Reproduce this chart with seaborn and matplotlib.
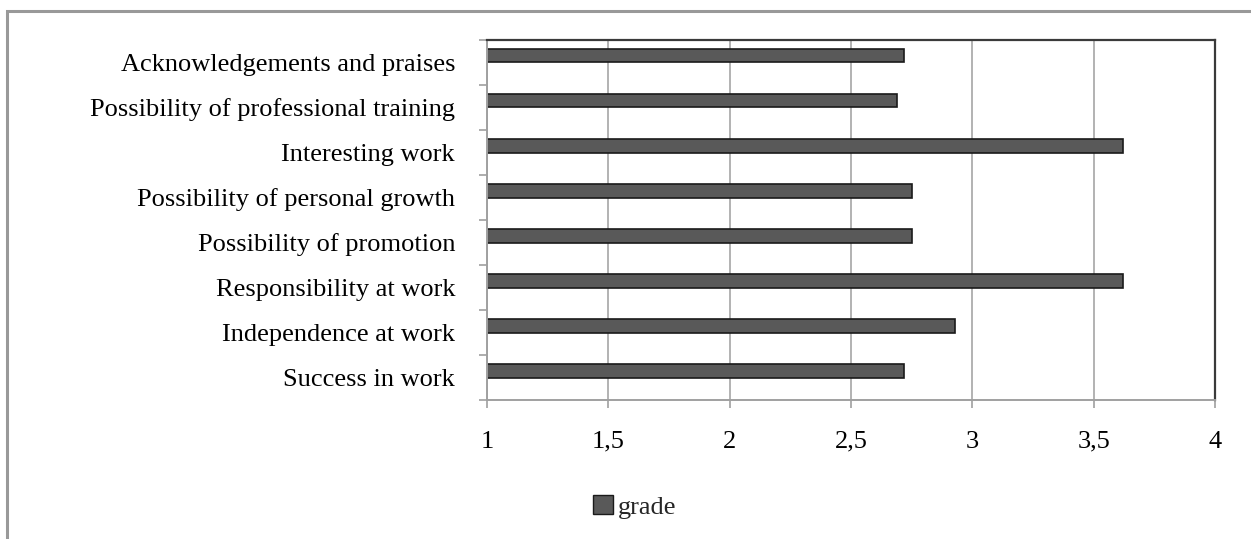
import numpy as np
import pandas as pd
import seaborn as sns
import matplotlib
matplotlib.use("Agg")
import matplotlib.pyplot as plt
from matplotlib.patches import Rectangle, Patch
from matplotlib.ticker import FixedLocator, FuncFormatter

# Motivation factors and their mean grades
factors = [
    "Acknowledgements and praises",
    "Possibility of professional training",
    "Interesting work",
    "Possibility of personal growth",
    "Possibility of promotion",
    "Responsibility at work",
    "Independence at work",
    "Success in work",
]
grades = [2.72, 2.69, 3.62, 2.75, 2.75, 3.62, 2.93, 2.72]
series_name = "grade"
x_ticks = [1, 1.5, 2, 2.5, 3, 3.5, 4]

sns.set_theme(style="white")
plt.rcParams["font.family"] = ["Liberation Serif", "DejaVu Serif"]

df = pd.DataFrame({"factor": factors, "value": grades, "series": series_name})

fig = plt.figure(figsize=(12.51, 5.39), dpi=100)
ax = fig.add_axes([487 / 1251, 1 - 400 / 539, 728 / 1251, 360 / 539])

# Two-slot grouping leaves the bar in the upper half of each category band
sns.barplot(
    data=df, y="factor", x="value", hue="series",
    hue_order=[series_name, "_empty"], order=factors,
    orient="h", dodge=True, width=0.58,
    palette={series_name: "#595959", "_empty": "#595959"},
    edgecolor="#1a1a1a", linewidth=1.2, ax=ax, legend=False,
)

ax.set_xlim(1, 4)
ax.set_ylim(len(factors) - 0.5, -0.5)
ax.set_xlabel("")
ax.set_ylabel("")

ax.xaxis.set_major_locator(FixedLocator(x_ticks))
ax.xaxis.set_major_formatter(FuncFormatter(lambda v, p: f"{v:g}".replace(".", ",")))
ax.grid(axis="x", color="#a6a6a6", linewidth=1.2)
ax.grid(axis="y", visible=False)
ax.set_axisbelow(True)

ax.tick_params(axis="x", which="major", bottom=True, length=6, width=1.2,
               color="#a0a0a0", direction="out", pad=16, labelsize=19,
               labelcolor="black")
# Category ticks sit between bands; labels at the band centres
ax.yaxis.set_minor_locator(FixedLocator(np.arange(-0.5, len(factors) + 0.5, 1)))
ax.tick_params(axis="y", which="minor", left=True, length=6, width=1.2,
               color="#a0a0a0", direction="out")
ax.tick_params(axis="y", which="major", left=False, length=0, pad=23,
               labelsize=19, labelcolor="black")

for side in ["left", "bottom"]:
    ax.spines[side].set_color("#a0a0a0")
    ax.spines[side].set_linewidth(1.4)
for side in ["top", "right"]:
    ax.spines[side].set_color("#3a3a3a")
    ax.spines[side].set_linewidth(1.6)
    ax.spines[side].set_visible(True)

handle = Patch(facecolor="#595959", edgecolor="#1a1a1a", linewidth=1.0)
fig.legend([handle], [series_name], loc="center", bbox_to_anchor=(635 / 1251, 1 - 507 / 539),
           frameon=False, fontsize=19, handlelength=0.75, handleheight=0.75,
           handletextpad=0.2)

# Outer chart frame
fig.patches.append(Rectangle((7 / 1251, -0.1), 1.2, 1 - 11 / 539 + 0.1,
                             transform=fig.transFigure, fill=False,
                             edgecolor="#999999", linewidth=2.2))

fig.savefig("out.png", dpi=100, facecolor="white")
